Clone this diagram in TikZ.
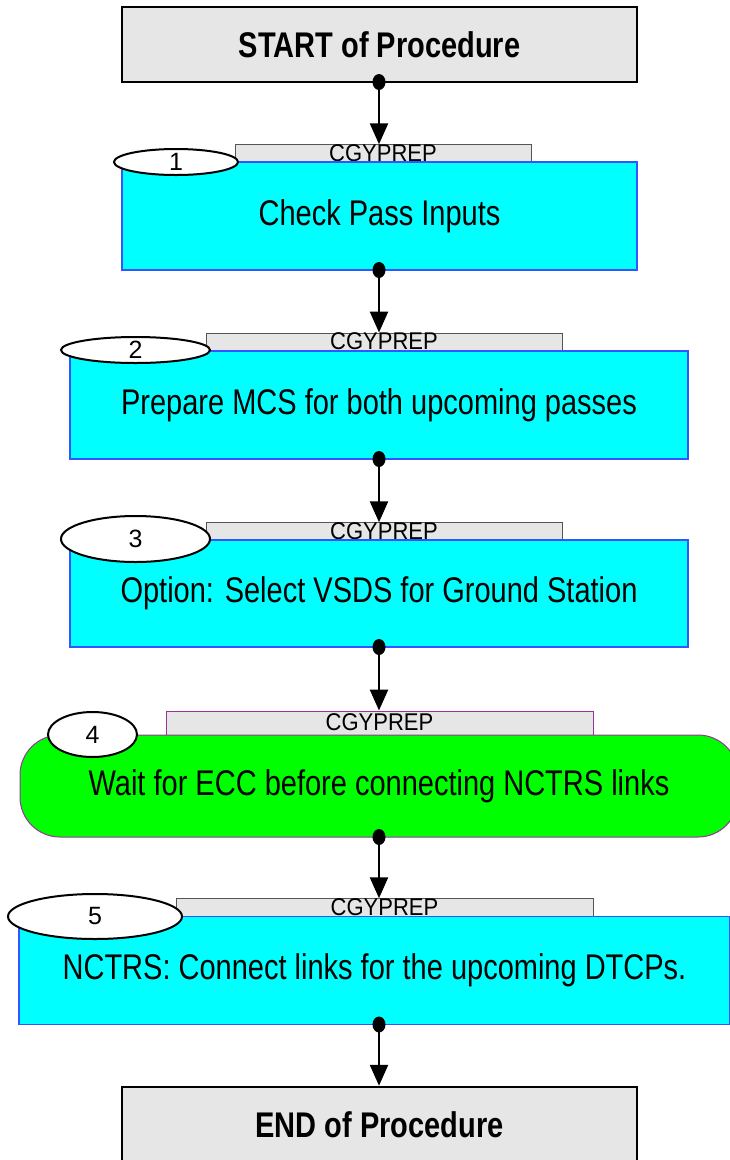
\documentclass[tikz,border=0pt]{standalone}
\usepackage{fontspec}
\usepackage{graphicx}
\setmainfont{Liberation Sans}
\usetikzlibrary{shapes.geometric,arrows.meta}

\definecolor{boxgray}{HTML}{E6E6E6}
\definecolor{stepcyan}{HTML}{00FFFF}
\definecolor{stepgreen}{HTML}{00FF00}
\definecolor{stepblue}{HTML}{3355FF}
\definecolor{waitpurple}{HTML}{993399}
\definecolor{tabedge}{HTML}{555555}

% tall, narrow-looking lettering of the step captions
\newcommand{\tallcap}[1]{\scalebox{1}[1.23]{#1}}
\newcommand{\tabcap}[1]{\scalebox{1}[1.1]{#1}}

\tikzset{
  termbox/.style={draw=black, line width=2.5pt, fill=boxgray,
    font=\bfseries\fontsize{29}{34}\selectfont, inner sep=0pt},
  stepbox/.style={draw=stepblue, line width=1.5pt, fill=stepcyan,
    font=\fontsize{29}{34}\selectfont, inner sep=0pt},
  waitbox/.style={draw=waitpurple, line width=1pt, fill=stepgreen,
    rounded corners=40pt, font=\fontsize{29}{34}\selectfont, inner sep=0pt},
  tabbox/.style={draw=tabedge, line width=1pt, fill=boxgray,
    font=\fontsize{22}{26}\selectfont, inner xsep=0pt, inner ysep=1pt,
    text height=15.5pt, text depth=0pt},
  numoval/.style={ellipse, draw=black, line width=2pt, fill=white,
    font=\fontsize{25}{30}\selectfont, inner sep=0pt},
  flowdot/.style={ellipse, fill=black, inner sep=0pt,
    minimum width=13pt, minimum height=16pt},
  flow/.style={line width=2.5pt, -{Triangle[width=18pt,length=21pt]}}
}

\begin{document}
\begin{tikzpicture}[x=1pt, y=-1pt]
\useasboundingbox (0,0) rectangle (730,1160);

% start and end of the procedure
\node[termbox, minimum width=515pt, minimum height=75pt] (start) at (379.5,44.5) {\tallcap{START of Procedure}};
\node[termbox, minimum width=515pt, minimum height=75pt] (end) at (379.5,1124.5) {\tallcap{END of Procedure}};

% step 1
\node[tabbox, minimum width=296pt, minimum height=17pt] (t1) at (383,153.5) {\tabcap{CGYPREP}};
\node[stepbox, minimum width=515pt, minimum height=108pt] (s1) at (379.5,216) {\tallcap{Check Pass Inputs}};
\node[numoval, minimum width=124pt, minimum height=26pt] (n1) at (176,162) {1};

% step 2
\node[tabbox, minimum width=356pt, minimum height=18pt] (t2) at (384,342) {\tabcap{CGYPREP}};
\node[stepbox, minimum width=618pt, minimum height=108pt] (s2) at (379,405) {\tallcap{Prepare MCS for both upcoming passes}};
\node[numoval, minimum width=149pt, minimum height=26pt] (n2) at (135.5,350) {2};

% step 3
\node[tabbox, minimum width=356pt, minimum height=17pt] (t3) at (384,531.5) {\tabcap{CGYPREP}};
\node[stepbox, minimum width=618pt, minimum height=107pt] (s3) at (379,593.5) {\tallcap{Option: Select VSDS for Ground Station}};
\node[numoval, minimum width=149pt, minimum height=46pt] (n3) at (135.5,539) {3};

% step 4 (wait step)
\node[tabbox, draw=waitpurple, minimum width=427pt, minimum height=24pt] (t4) at (379.5,723) {\tabcap{CGYPREP}};
\node[waitbox, minimum width=718pt, minimum height=102pt] (s4) at (379,786) {\tallcap{Wait for ECC before connecting NCTRS links}};
\node[numoval, minimum width=89pt, minimum height=45pt] (n4) at (92.5,734.5) {4};

% step 5
\node[tabbox, minimum width=417pt, minimum height=17pt] (t5) at (384.5,907.5) {\tabcap{CGYPREP}};
\node[stepbox, minimum width=711pt, minimum height=108pt] (s5) at (374.5,970.5) {\tallcap{NCTRS: Connect links for the upcoming DTCPs.}};
\node[numoval, minimum width=174pt, minimum height=45pt] (n5) at (95,916.5) {5};

% connectors: a dot on the bottom edge, an arrow to the next tab
\node[flowdot] (d0) at (379,82) {};
\node[flowdot] (d1) at (379,270) {};
\node[flowdot] (d2) at (379,459) {};
\node[flowdot] (d3) at (379,647) {};
\node[flowdot] (d4) at (379,837) {};
\node[flowdot] (d5) at (379,1024.5) {};

\draw[flow] (d0.center) -- (d0.center |- t1.north);
\draw[flow] (d1.center) -- (d1.center |- t2.north);
\draw[flow] (d2.center) -- (d2.center |- t3.north);
\draw[flow] (d3.center) -- (d3.center |- t4.north);
\draw[flow] (d4.center) -- (d4.center |- t5.north);
\draw[flow] (d5.center) -- (d5.center |- end.north);
\end{tikzpicture}
\end{document}
